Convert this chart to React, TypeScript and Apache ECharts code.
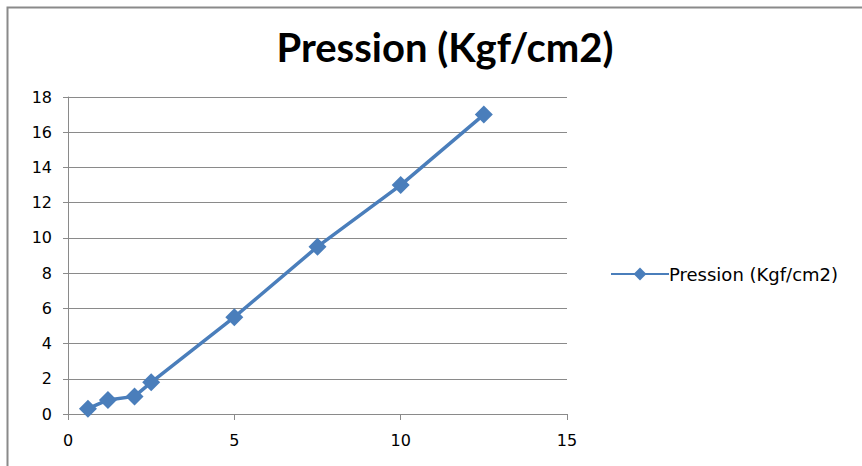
import React, { useEffect, useRef } from "react";
import * as echarts from "echarts";

const seriesName = "Pression (Kgf/cm2)";
const xValues = [0.6, 1.2, 2.0, 2.5, 5.0, 7.5, 10.0, 12.5];
const yValues = [0.3, 0.8, 1.0, 1.8, 5.5, 9.5, 13.0, 17.0];

const TITLE_FONT = "Lato, 'Open Sans', sans-serif";
const FONT = "'DejaVu Sans', sans-serif";

export default function App() {
  const ref = useRef<HTMLDivElement>(null);
  useEffect(() => {
    if (!ref.current) return;
    const chart = echarts.init(ref.current, undefined, { renderer: "svg" });
    chart.setOption({
      animation: false,
      backgroundColor: "#ffffff",
      title: {
        text: seriesName,
        left: 440,
        textAlign: "center",
        top: 22,
        textStyle: { fontFamily: TITLE_FONT, fontSize: 40, fontWeight: "bold", color: "#000" },
      },
      graphic: [
        {
          type: "polyline",
          shape: { points: [[7.5, 470], [7.5, 7.5], [870, 7.5]] },
          style: { stroke: "#8a8a8a", lineWidth: 2, fill: "none" },
          silent: true,
        },
      ],
      legend: {
        left: 605,
        top: 260,
        itemWidth: 58,
        itemHeight: 16,
        itemGap: 4,
        textStyle: { fontFamily: FONT, fontSize: 18, color: "#000", padding: [0, 0, 0, -5] },
        data: [seriesName],
      },
      grid: { left: 68, top: 97, right: 295, bottom: 52, containLabel: false },
      xAxis: {
        type: "value",
        min: 0,
        max: 15,
        interval: 5,
        axisLine: { show: true, onZero: false, lineStyle: { color: "#8a8a8a", width: 1 } },
        axisTick: { show: true, length: 6, lineStyle: { color: "#8a8a8a" } },
        splitLine: { show: false },
        axisLabel: { fontFamily: FONT, fontSize: 16, color: "#000", margin: 18 },
      },
      yAxis: {
        type: "value",
        min: 0,
        max: 18,
        interval: 2,
        axisLine: { show: true, onZero: false, lineStyle: { color: "#8a8a8a", width: 1 } },
        axisTick: { show: true, length: 5, lineStyle: { color: "#8a8a8a" } },
        splitLine: { show: true, lineStyle: { color: "#8a8a8a", width: 1 } },
        axisLabel: { fontFamily: FONT, fontSize: 16, color: "#000", margin: 16 },
      },
      series: [
        {
          name: seriesName,
          type: "line",
          data: xValues.map((x, i) => [x, yValues[i]]),
          symbol: "diamond",
          symbolSize: 18,
          lineStyle: { color: "#4a7ebb", width: 3.5 },
          itemStyle: { color: "#4a7ebb" },
        },
      ],
    });
    return () => chart.dispose();
  }, []);
  return (
    <div
      ref={ref}
      style={{ position: "absolute", left: 0, top: 0, width: 862, height: 466 }}
    />
  );
}
